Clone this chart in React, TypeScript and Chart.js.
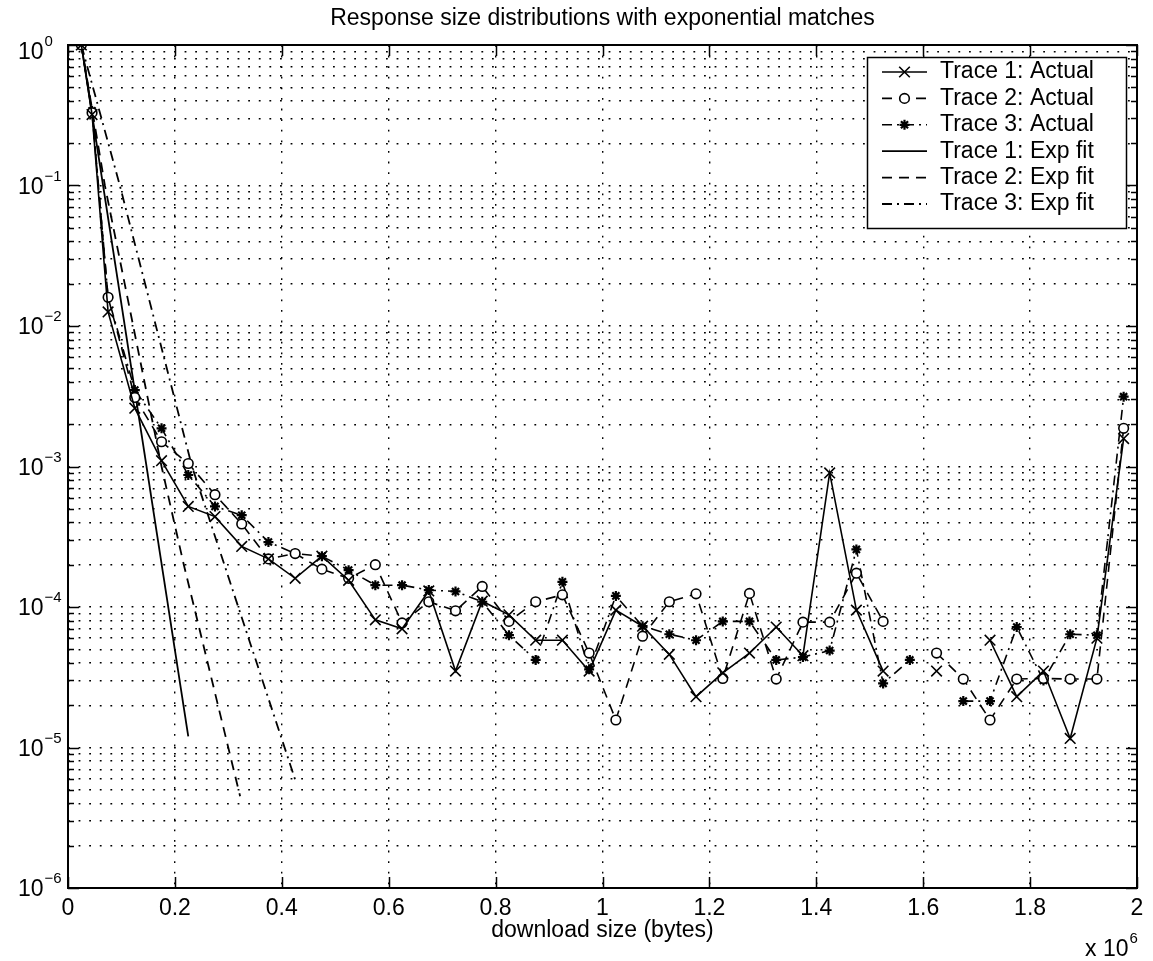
import React, { useEffect, useRef } from 'react';
import { Chart, registerables } from 'chart.js';
import { drawPoint } from 'chart.js/helpers';

Chart.register(...registerables);

// ---------- data (x in units of 10^6 bytes) ----------
const TITLE = 'Response size distributions with exponential matches';
const X_LABEL = 'download size (bytes)';
const X_MULTIPLIER = '10';
const X_MULTIPLIER_EXP = '6';

const xValues = [
  0.025, 0.045, 0.075, 0.125, 0.175, 0.225, 0.275, 0.325, 0.375, 0.425,
  0.475, 0.525, 0.575, 0.625, 0.675, 0.725, 0.775, 0.825, 0.875, 0.925,
  0.975, 1.025, 1.075, 1.125, 1.175, 1.225, 1.275, 1.325, 1.375, 1.425,
  1.475, 1.525, 1.575, 1.625, 1.675, 1.725, 1.775, 1.825, 1.875, 1.925, 1.975,
];

const trace1Actual = [
  1.0, 0.32, 0.0126, 0.0026, 0.0011, 5.2e-4, 4.4e-4, 2.7e-4, 2.2e-4, 1.6e-4,
  2.3e-4, 1.55e-4, 8.1e-5, 7.0e-5, 1.3e-4, 3.5e-5, 1.1e-4, 8.8e-5, 5.8e-5, 5.8e-5,
  3.5e-5, 9.5e-5, 7.3e-5, 4.6e-5, 2.3e-5, 3.4e-5, 4.7e-5, 7.2e-5, 4.5e-5, 9.0e-4,
  9.5e-5, 3.5e-5, null, 3.5e-5, null, 5.8e-5, 2.3e-5, 3.5e-5, 1.16e-5, 6.0e-5, 1.58e-3,
];

const trace2Actual = [
  1.0, 0.33, 0.016, 0.0031, 0.0015, 1.05e-3, 6.3e-4, 3.9e-4, 2.2e-4, 2.4e-4,
  1.86e-4, 1.6e-4, 2.0e-4, 7.7e-5, 1.09e-4, 9.4e-5, 1.4e-4, 7.9e-5, 1.09e-4, 1.22e-4,
  4.7e-5, 1.57e-5, 6.2e-5, 1.09e-4, 1.24e-4, 3.1e-5, 1.25e-4, 3.07e-5, 7.8e-5, 7.8e-5,
  1.74e-4, 7.9e-5, null, 4.7e-5, 3.07e-5, 1.57e-5, 3.07e-5, 3.1e-5, 3.07e-5, 3.07e-5, 1.87e-3,
];

const trace3Actual = [
  1.0, 0.34, 0.016, 0.0035, 0.00187, 8.7e-4, 5.2e-4, 4.5e-4, 2.9e-4, 2.4e-4,
  2.3e-4, 1.83e-4, 1.43e-4, 1.43e-4, 1.32e-4, 1.29e-4, 1.09e-4, 6.3e-5, 4.2e-5, 1.51e-4,
  3.6e-5, 1.2e-4, 7.3e-5, 6.4e-5, 5.8e-5, 7.9e-5, 7.9e-5, 4.2e-5, 4.4e-5, 4.9e-5,
  2.57e-4, 2.86e-5, 4.2e-5, null, 2.14e-5, 2.14e-5, 7.2e-5, 3.0e-5, 6.4e-5, 6.3e-5, 3.14e-3,
];

const fit1X = [0.025, 0.225];
const fit1Y = [1.0, 1.2e-5];
const fit2X = [0.025, 0.069, 0.175, 0.216, 0.322];
const fit2Y = [1.0, 0.1, 1.0e-3, 2.05e-4, 4.5e-6];
const fit3X = [0.025, 0.097, 0.232, 0.425];
const fit3Y = [1.0, 0.1, 1.0e-3, 5.9e-6];

const seriesLabels = [
  'Trace 1: Actual',
  'Trace 2: Actual',
  'Trace 3: Actual',
  'Trace 1: Exp fit',
  'Trace 2: Exp fit',
  'Trace 3: Exp fit',
];

const xTickValues = [0, 0.2, 0.4, 0.6, 0.8, 1.0, 1.2, 1.4, 1.6, 1.8, 2.0];
const xTickLabels = ['0', '0.2', '0.4', '0.6', '0.8', '1', '1.2', '1.4', '1.6', '1.8', '2'];
const yDecadeExponents = [0, -1, -2, -3, -4, -5, -6];
const yDecadeLabels = ['0', '\u22121', '\u22122', '\u22123', '\u22124', '\u22125', '\u22126'];

// ---------- styling ----------
const FONT = '"Liberation Sans", Arial, Helvetica, sans-serif';
const FS = 23;
const SUP_FS = 15;
const W = 1153;
const H = 961;

const DASH_DASHED = [10, 7];
const DASH_DASHDOT = [10, 5, 2, 5];
const GRID_DASH = [1.8, 8.8];

function pts(xs: number[], ys: (number | null)[]) {
  return xs.map((x, i) => ({ x, y: ys[i] }));
}

const allYTicks: { value: number; major: boolean }[] = [];
for (let e = -6; e <= 0; e++) {
  for (let s = 1; s <= 9; s++) {
    const v = s * Math.pow(10, e);
    if (e === 0 && s > 1) break;
    allYTicks.push({ value: v, major: s === 1 });
  }
}

const matlabPlugin = {
  id: 'matlabAxes',
  afterDraw(chart: any) {
    const { ctx, chartArea } = chart;
    const { left, right, top, bottom } = chartArea;
    const xs = chart.scales.x;
    const ys = chart.scales.y;
    ctx.save();
    ctx.strokeStyle = '#000';
    ctx.fillStyle = '#000';

    // inward ticks
    ctx.lineWidth = 1.5;
    ctx.setLineDash([]);
    ctx.beginPath();
    for (const t of allYTicks) {
      const py = Math.round(ys.getPixelForValue(t.value)) + 0.5;
      const len = t.major ? 11 : 6;
      ctx.moveTo(left, py);
      ctx.lineTo(left + len, py);
      ctx.moveTo(right, py);
      ctx.lineTo(right - len, py);
    }
    for (const v of xTickValues) {
      const px = Math.round(xs.getPixelForValue(v)) + 0.5;
      ctx.moveTo(px, bottom);
      ctx.lineTo(px, bottom - 11);
      ctx.moveTo(px, top);
      ctx.lineTo(px, top + 11);
    }
    ctx.stroke();

    // box
    ctx.lineWidth = 2;
    ctx.strokeRect(left, top, right - left, bottom - top);

    // y tick labels 10^n
    ctx.textBaseline = 'middle';
    ctx.textAlign = 'left';
    yDecadeExponents.forEach((e, i) => {
      const py = ys.getPixelForValue(Math.pow(10, e));
      const cy = i === 0 ? Math.max(py + 2, top + 8) : py + 2;
      ctx.font = `${FS}px ${FONT}`;
      ctx.fillText('10', 18, cy);
      const w = ctx.measureText('10').width;
      ctx.font = `${SUP_FS}px ${FONT}`;
      ctx.fillText(yDecadeLabels[i], 18 + w + 1, cy - 11);
    });

    // x multiplier
    ctx.font = `${FS}px ${FONT}`;
    const mulText = 'x ' + X_MULTIPLIER;
    ctx.fillText(mulText, 1085, 950);
    const mw = ctx.measureText(mulText).width;
    ctx.font = `${SUP_FS}px ${FONT}`;
    ctx.fillText(X_MULTIPLIER_EXP, 1085 + mw + 1, 939);

    // legend
    const lx = 867, ly = 57, lw = 259, lh = 171;
    ctx.fillStyle = '#fff';
    ctx.fillRect(lx, ly, lw, lh);
    ctx.lineWidth = 1.5;
    ctx.strokeStyle = '#000';
    ctx.strokeRect(lx + 0.5, ly + 0.5, lw, lh);
    ctx.fillStyle = '#000';
    chart.data.datasets.forEach((ds: any, i: number) => {
      const cy = 72 + i * 26.4;
      ctx.save();
      ctx.lineWidth = ds.borderWidth;
      ctx.setLineDash(ds.borderDash || []);
      ctx.beginPath();
      ctx.moveTo(882, cy);
      ctx.lineTo(927, cy);
      ctx.stroke();
      ctx.restore();
      if (ds.pointRadius > 0) {
        ctx.save();
        ctx.setLineDash([]);
        ctx.lineWidth = ds.pointBorderWidth;
        ctx.strokeStyle = '#000';
        ctx.fillStyle = ds.pointBackgroundColor;
        drawPoint(ctx, { pointStyle: ds.pointStyle, radius: ds.pointRadius, rotation: 0, borderWidth: ds.pointBorderWidth }, 904.5, cy);
        ctx.restore();
      }
      ctx.font = `${FS}px ${FONT}`;
      ctx.textBaseline = 'middle';
      ctx.fillStyle = '#000';
      ctx.fillText(ds.label, 940, cy);
    });
    ctx.restore();
  },
};

export default function App() {
  const ref = useRef<HTMLCanvasElement | null>(null);
  useEffect(() => {
    if (!ref.current) return;
    const common = {
      borderColor: '#000',
      fill: false,
      tension: 0,
      spanGaps: false,
    };
    const chart = new Chart(ref.current, {
      type: 'line',
      data: {
        datasets: [
          {
            ...common,
            label: seriesLabels[0],
            data: pts(xValues, trace1Actual),
            borderWidth: 1.6,
            borderDash: [],
            pointStyle: 'crossRot',
            pointRadius: 7.5,
            pointBorderWidth: 1.6,
            pointBorderColor: '#000',
            pointBackgroundColor: 'rgba(0,0,0,0)',
          },
          {
            ...common,
            label: seriesLabels[1],
            data: pts(xValues, trace2Actual),
            borderWidth: 1.6,
            borderDash: DASH_DASHED,
            pointStyle: 'circle',
            pointRadius: 4.8,
            pointBorderWidth: 1.6,
            pointBorderColor: '#000',
            pointBackgroundColor: '#fff',
          },
          {
            ...common,
            label: seriesLabels[2],
            data: pts(xValues, trace3Actual),
            borderWidth: 1.6,
            borderDash: DASH_DASHDOT,
            pointStyle: 'star',
            pointRadius: 5,
            pointBorderWidth: 2.2,
            pointBorderColor: '#000',
            pointBackgroundColor: '#000',
          },
          {
            ...common,
            label: seriesLabels[3],
            data: pts(fit1X, fit1Y),
            borderWidth: 1.8,
            borderDash: [],
            pointRadius: 0,
          },
          {
            ...common,
            label: seriesLabels[4],
            data: pts(fit2X, fit2Y),
            borderWidth: 1.8,
            borderDash: DASH_DASHED,
            pointRadius: 0,
          },
          {
            ...common,
            label: seriesLabels[5],
            data: pts(fit3X, fit3Y),
            borderWidth: 1.8,
            borderDash: DASH_DASHDOT,
            pointRadius: 0,
          },
        ] as any,
      },
      options: {
        responsive: false,
        maintainAspectRatio: false,
        animation: false,
        events: [],
        layout: { padding: { left: 68, right: 16, top: 0, bottom: 0 } },
        plugins: {
          legend: { display: false },
          tooltip: { enabled: false },
          title: {
            display: true,
            text: TITLE,
            color: '#000',
            font: { family: FONT, size: FS, weight: 'normal', lineHeight: 1.2 },
            padding: { top: 5, bottom: 12.4 },
          },
        },
        scales: {
          x: {
            type: 'linear',
            min: 0,
            max: 2,
            afterBuildTicks: (s: any) => {
              s.ticks = xTickValues.map((v) => ({ value: v }));
            },
            afterFit: (s: any) => {
              s.height = 73;
            },
            ticks: {
              autoSkip: false,
              maxRotation: 0,
              color: '#000',
              padding: 7,
              font: { family: FONT, size: FS, lineHeight: 1.2 },
              callback: (_v: any, i: number) => xTickLabels[i],
            },
            grid: { color: '#000', lineWidth: 1.4, drawTicks: false },
            border: { display: false, dash: GRID_DASH },
            title: {
              display: true,
              text: X_LABEL,
              color: '#000',
              font: { family: FONT, size: FS, lineHeight: 1.2 },
              padding: { top: 0, bottom: 17 },
            },
          },
          y: {
            type: 'logarithmic',
            min: 1e-6,
            max: 1,
            afterBuildTicks: (s: any) => {
              s.ticks = allYTicks.map((t) => ({ value: t.value, major: t.major }));
            },
            afterFit: (s: any) => {
              s.width = 0;
            },
            ticks: { display: false, autoSkip: false },
            grid: { color: '#000', lineWidth: 1.4, drawTicks: false },
            border: { display: false, dash: GRID_DASH },
          },
        },
      } as any,
      plugins: [matlabPlugin],
    });
    return () => chart.destroy();
  }, []);

  return (
    <div style={{ position: 'fixed', left: 0, top: 0, width: W, height: H, background: '#fff' }}>
      <canvas ref={ref} width={W} height={H} style={{ width: W, height: H, display: 'block' }} />
    </div>
  );
}
